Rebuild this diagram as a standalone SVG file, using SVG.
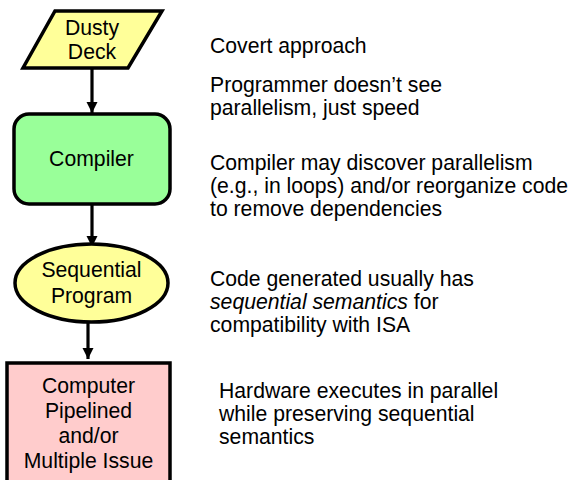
<svg xmlns="http://www.w3.org/2000/svg" width="571" height="480" viewBox="0 0 571 480">
  <style>
    .lbl { font-family: "Liberation Sans", Arial, sans-serif; font-size: 21.2px; fill: #000; }
    .mid { text-anchor: middle; }
    .shape { stroke: #000; stroke-width: 3.5; }
    .edge { stroke: #000; stroke-width: 3.2; fill: none; }
  </style>
  <defs>
    <marker id="arrow" markerUnits="userSpaceOnUse" markerWidth="12" markerHeight="12" refX="11" refY="6" orient="auto">
      <path d="M0,0.5 L11,6 L0,11.5 Z" fill="#000"/>
    </marker>
  </defs>
  <rect width="571" height="480" fill="#fff"/>

  <!-- connectors -->
  <g id="connectors">
    <line class="edge" x1="92" y1="68" x2="92" y2="113" marker-end="url(#arrow)"/>
    <line class="edge" x1="92" y1="204" x2="92" y2="247" marker-end="url(#arrow)"/>
    <line class="edge" x1="88" y1="322" x2="88" y2="359" marker-end="url(#arrow)"/>
  </g>

  <!-- input: dusty deck -->
  <g id="dusty-deck">
    <polygon class="shape" points="55,11 162,11 128,68 23,68" fill="#FFFF99"/>
    <text class="lbl mid" x="92" y="35">Dusty</text>
    <text class="lbl mid" x="92" y="59">Deck</text>
  </g>

  <!-- compiler -->
  <g id="compiler">
    <rect class="shape" x="14" y="114" width="156" height="90" rx="15" ry="15" fill="#99FF99" stroke-width="4"/>
    <text class="lbl mid" x="91.5" y="166">Compiler</text>
  </g>

  <!-- sequential program -->
  <g id="sequential-program">
    <ellipse class="shape" cx="91.5" cy="283" rx="76.5" ry="39" fill="#FFFF99"/>
    <text class="lbl mid" x="91.5" y="277">Sequential</text>
    <text class="lbl mid" x="91.5" y="303">Program</text>
  </g>

  <!-- hardware -->
  <g id="computer">
    <rect class="shape" x="7" y="363" width="163" height="130" fill="#FFCCCC" stroke-width="4"/>
    <text class="lbl mid" x="88.5" y="393">Computer</text>
    <text class="lbl mid" x="88.5" y="418">Pipelined</text>
    <text class="lbl mid" x="88.5" y="443">and/or</text>
    <text class="lbl mid" x="88.5" y="468">Multiple Issue</text>
  </g>

  <!-- side notes -->
  <g id="notes">
    <text class="lbl" x="210" y="53">Covert approach</text>
    <text class="lbl" x="210" y="92">Programmer doesn’t see</text>
    <text class="lbl" x="210" y="115">parallelism, just speed</text>
    <text class="lbl" x="210" y="170">Compiler may discover parallelism</text>
    <text class="lbl" x="210" y="193">(e.g., in loops) and/or reorganize code</text>
    <text class="lbl" x="210" y="216">to remove dependencies</text>
    <text class="lbl" x="210" y="286">Code generated usually has</text>
    <text class="lbl" x="210" y="309"><tspan font-style="italic">sequential semantics</tspan> for</text>
    <text class="lbl" x="210" y="332">compatibility with ISA</text>
    <text class="lbl" x="219" y="398">Hardware executes in parallel</text>
    <text class="lbl" x="219" y="421">while preserving sequential</text>
    <text class="lbl" x="219" y="444">semantics</text>
  </g>
</svg>
